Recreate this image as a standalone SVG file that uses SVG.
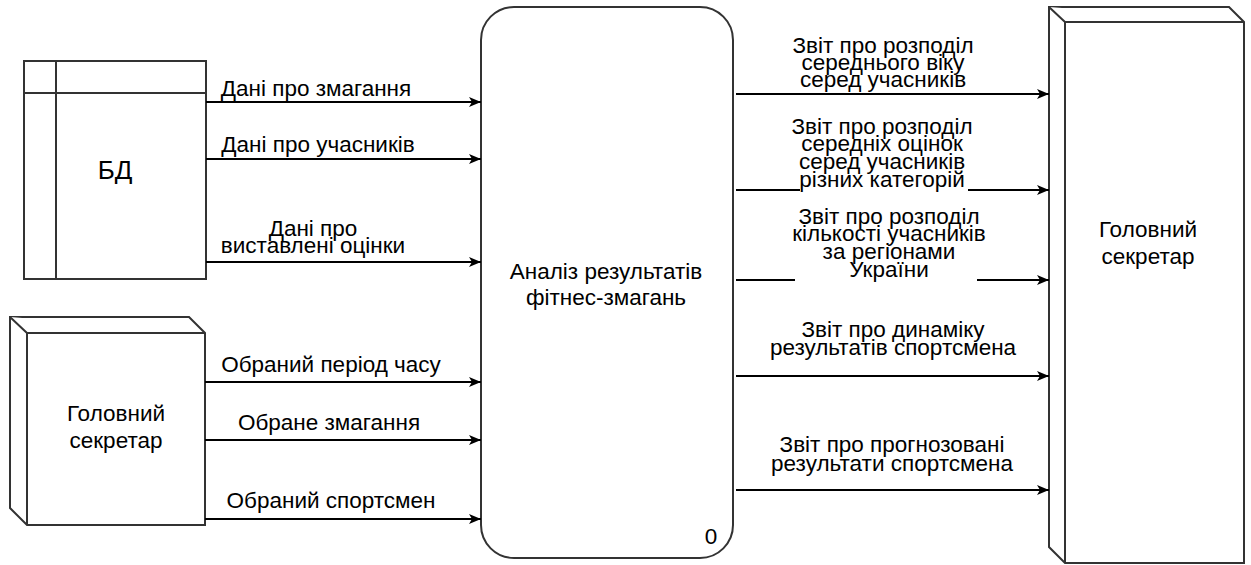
<svg xmlns="http://www.w3.org/2000/svg" width="1251" height="565" viewBox="0 0 1251 565">
  <defs>
    <marker id="arr" viewBox="0 0 12 10" refX="12" refY="5" markerWidth="12" markerHeight="10" markerUnits="userSpaceOnUse" orient="auto">
      <path d="M0,0 L12,5 L0,10 L3,5 Z" fill="#000"/>
    </marker>
    <style>
      text { font-family: "Liberation Sans", Arial, sans-serif; font-size: 22.5px; fill: #000; text-anchor: middle; }
      .box { fill: #fff; stroke: #333; stroke-width: 2; }
      .edge { stroke: #000; stroke-width: 2; fill: none; marker-end: url(#arr); }
      .bg { fill: #fff; }
    </style>
  </defs>

  <rect width="1251" height="565" fill="#fff"/>

  <!-- data store -->
  <g id="db">
    <rect class="box" x="24" y="61" width="182" height="218"/>
    <line class="box" x1="56" y1="61" x2="56" y2="279"/>
    <line class="box" x1="24" y1="93" x2="206" y2="93"/>
    <text x="115" y="179" style="font-size:26px">БД</text>
  </g>

  <!-- external entity, left -->
  <g id="secretary-left">
    <path class="box" d="M10,317 L189,317 L205,333 L205,525 L27,525 L10,508 Z"/>
    <path class="box" d="M10,317 L27,333 L205,333 M27,333 L27,525"/>
    <text x="116" y="421">Головний</text>
    <text x="116" y="448">секретар</text>
  </g>

  <!-- process -->
  <g id="process">
    <rect class="box" x="481" y="7" width="252" height="551" rx="33" ry="33"/>
    <text x="606" y="279">Аналіз результатів</text>
    <text x="606" y="305">фітнес-змагань</text>
    <text x="711" y="544">0</text>
  </g>

  <!-- external entity, right -->
  <g id="secretary-right">
    <path class="box" d="M1049,7 L1229,7 L1244,22 L1244,563 L1065,563 L1049,547 Z"/>
    <path class="box" d="M1049,7 L1065,22 L1244,22 M1065,22 L1065,563"/>
    <text x="1148" y="237">Головний</text>
    <text x="1148" y="264">секретар</text>
  </g>

  <!-- connectors -->
  <g id="connectors">
    <line class="edge" x1="206" y1="102" x2="481" y2="102"/>
    <line class="edge" x1="206" y1="159" x2="481" y2="159"/>
    <line class="edge" x1="206" y1="262" x2="481" y2="262"/>
    <line class="edge" x1="205" y1="382" x2="481" y2="382"/>
    <line class="edge" x1="205" y1="440" x2="481" y2="440"/>
    <line class="edge" x1="205" y1="519" x2="481" y2="519"/>

    <line class="edge" x1="736" y1="94" x2="1049" y2="94"/>
    <line class="edge" x1="736" y1="190" x2="1049" y2="190"/>
    <line class="edge" x1="736" y1="280" x2="1049" y2="280"/>
    <line class="edge" x1="736" y1="376" x2="1049" y2="376"/>
    <line class="edge" x1="736" y1="490" x2="1049" y2="490"/>
  </g>

  <!-- connector labels -->
  <g id="labels">
    <text x="316" y="96">Дані про змагання</text>
    <text x="318" y="152">Дані про учасників</text>
    <text x="313" y="236">Дані про</text>
    <text x="313" y="253">виставлені оцінки</text>
    <text x="331" y="372">Обраний період часу</text>
    <text x="329" y="430">Обране змагання</text>
    <text x="331" y="508">Обраний спортсмен</text>

    <text x="883" y="53">Звіт про розподіл</text>
    <text x="883" y="70">середнього віку</text>
    <text x="883" y="87">серед учасників</text>

    <rect class="bg" x="800" y="180" width="168" height="14"/>
    <text x="882" y="134">Звіт про розподіл</text>
    <text x="882" y="151">середніх оцінок</text>
    <text x="882" y="169">серед учасників</text>
    <text x="882" y="187">різних категорій</text>

    <rect class="bg" x="795" y="270" width="182" height="14"/>
    <text x="889" y="224">Звіт про розподіл</text>
    <text x="889" y="241">кількості учасників</text>
    <text x="889" y="259">за регіонами</text>
    <text x="889" y="277">України</text>

    <text x="893" y="337">Звіт про динаміку</text>
    <text x="893" y="355">результатів спортсмена</text>

    <text x="892" y="452">Звіт про прогнозовані</text>
    <text x="892" y="471">результати спортсмена</text>
  </g>
</svg>
